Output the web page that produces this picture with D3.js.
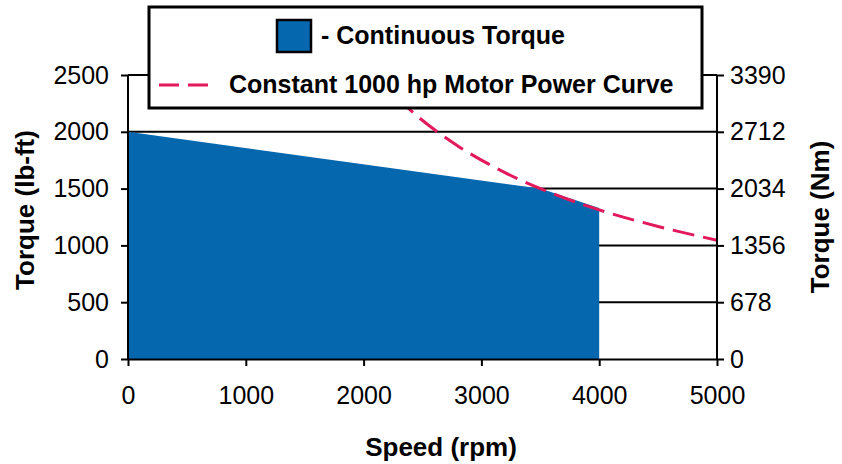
<!DOCTYPE html>
<html><head><meta charset="utf-8">
<script src="https://cdn.jsdelivr.net/npm/d3@7"></script>
<style>
html,body{margin:0;padding:0;background:#fff;}
text{font-family:"Liberation Sans",Arial,sans-serif;fill:#000;}
</style></head>
<body>
<svg id="c" width="842" height="464"></svg>
<script>
// Data
const lbftTicks = [0, 500, 1000, 1500, 2000, 2500];
const nmTicks = [0, 678, 1356, 2034, 2712, 3390];
const rpmTicks = [0, 1000, 2000, 3000, 4000, 5000];
const contRpm = [0, 3500, 4000];
const contTorque = [2000, 1500, 1330];
const powerRpm = [2100, 2400, 2800, 3200, 3600, 4000, 4500, 5000];
const powerTorque = [2500, 2188, 1876, 1641, 1459, 1313, 1167, 1045];
const legendLabels = ["- Continuous Torque", "Constant 1000 hp Motor Power Curve"];

const svg = d3.select("#c");
const L = 128, R = 717, T = 75, B = 359;
const x = d3.scaleLinear().domain([0, 5000]).range([L, R]);
const y = d3.scaleLinear().domain([0, 2500]).range([B, T]);
const y2 = d3.scaleLinear().domain([0, 3390]).range([B, T]);
const blue = "#0568ae", red = "#e2195b";
const fmt = d3.format("d");

// gridlines
svg.append("g").selectAll("line").data(lbftTicks.slice(1)).join("line")
  .attr("x1", L).attr("x2", R).attr("y1", d => y(d)).attr("y2", d => y(d))
  .attr("stroke", "#000").attr("stroke-width", 2);

// area
const cont = contRpm.map((r, i) => [r, contTorque[i]]);
svg.append("path").datum(cont)
  .attr("d", d3.area().x(d => x(d[0])).y0(y(0)).y1(d => y(d[1])))
  .attr("fill", blue);

// power curve
const pw = powerRpm.map((r, i) => [r, powerTorque[i]]);
svg.append("path").datum(pw)
  .attr("d", d3.line().x(d => x(d[0])).y(d => y(d[1])).curve(d3.curveMonotoneX))
  .attr("fill", "none").attr("stroke", red).attr("stroke-width", 3)
  .attr("stroke-dasharray", "22,9");

// axes
function styleAxis(g) {
  g.selectAll("path").attr("stroke", "#000").attr("stroke-width", 2);
  g.selectAll("line").attr("stroke", "#000").attr("stroke-width", 2);
  g.selectAll("text").style("font-size", "25px").attr("fill", "#000");
}
svg.append("g").attr("transform", `translate(${L},0)`)
  .call(d3.axisLeft(y).tickValues(lbftTicks).tickFormat(fmt).tickSize(7).tickSizeOuter(0).tickPadding(12))
  .call(styleAxis).call(g => g.select(".domain").attr("d", `M0,${B}V${T}`));
svg.append("g").attr("transform", `translate(${R},0)`)
  .call(d3.axisRight(y2).tickValues(nmTicks).tickFormat(fmt).tickSize(7).tickSizeOuter(0).tickPadding(6))
  .call(styleAxis).call(g => g.select(".domain").attr("d", `M0,${B}V${T}`));
svg.append("g").attr("transform", `translate(0,${B})`)
  .call(d3.axisBottom(x).tickValues(rpmTicks).tickFormat(fmt).tickSize(7).tickSizeOuter(0).tickPadding(20))
  .call(styleAxis).call(g => g.selectAll("text").attr("dy", "0.71em"));

// titles
svg.append("text").attr("transform", "translate(34,210) rotate(-90)")
  .attr("text-anchor", "middle").style("font-size", "26px").style("font-weight", "bold")
  .text("Torque (lb-ft)");
svg.append("text").attr("transform", "translate(829,217) rotate(-90)")
  .attr("text-anchor", "middle").style("font-size", "26px").style("font-weight", "bold")
  .text("Torque (Nm)");
svg.append("text").attr("x", 441).attr("y", 456)
  .attr("text-anchor", "middle").style("font-size", "26px").style("font-weight", "bold")
  .text("Speed (rpm)");

// legend
const lg = svg.append("g");
lg.append("rect").attr("x", 149).attr("y", 7).attr("width", 553).attr("height", 101)
  .attr("fill", "#fff").attr("stroke", "#000").attr("stroke-width", 3);
lg.append("rect").attr("x", 277).attr("y", 20).attr("width", 34).attr("height", 32)
  .attr("fill", blue).attr("stroke", "#000").attr("stroke-width", 2.5);
lg.append("text").attr("x", 321).attr("y", 44).style("font-size", "25px").style("font-weight", "bold")
  .text(legendLabels[0]);
lg.append("line").attr("x1", 159).attr("x2", 215).attr("y1", 85).attr("y2", 85)
  .attr("stroke", red).attr("stroke-width", 3).attr("stroke-dasharray", "20,9");
lg.append("text").attr("x", 229).attr("y", 93).style("font-size", "25px").style("font-weight", "bold")
  .text(legendLabels[1]);
</script>
</body></html>
